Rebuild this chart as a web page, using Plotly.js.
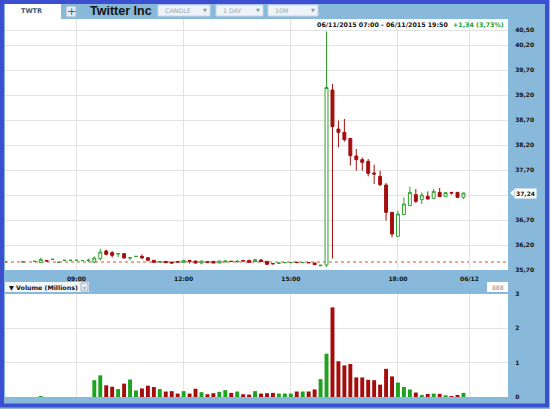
<!DOCTYPE html>
<html><head><meta charset="utf-8">
<script src="https://cdn.plot.ly/plotly-3.0.1.min.js"></script>
<style>html,body{margin:0;padding:0;background:#88b8da;overflow:hidden}#chart{width:550px;height:409px}</style>
</head><body><div id="chart"></div>
<script>
// ---- data ----
const times = ['07:00','07:30','07:50','08:00','08:10','08:20','08:30','08:40','08:50','09:00','09:10','09:20',
'09:30','09:40','09:50','10:00','10:10','10:20','10:30','10:40','10:50','11:00','11:10','11:20','11:30','11:40','11:50',
'12:00','12:10','12:20','12:30','12:40','12:50','13:00','13:10','13:20','13:30','13:40','13:50',
'14:00','14:10','14:20','14:30','14:40','14:50','15:00','15:10','15:20','15:30','15:40','15:50',
'16:00','16:10','16:20','16:30','16:40','16:50','17:00','17:10','17:20','17:30','17:40','17:50',
'18:00','18:10','18:20','18:30','18:40','18:50','19:00','19:10','19:20','19:30','19:40','19:50'];
const openP = [35.86,35.86,35.87,35.847,35.89,35.91,35.85,35.89,35.89,35.89,35.885,35.89,
35.86,35.927,36.08,36.047,36.02,36.027,35.94,35.97,35.973,35.947,35.893,35.853,35.873,35.86,35.865,
35.853,35.893,35.88,35.84,35.865,35.873,35.84,35.86,35.875,35.87,35.89,35.893,
35.867,35.90,35.873,35.83,35.835,35.845,35.845,35.855,35.845,35.85,35.84,35.785,
35.80,39.30,38.52,38.453,38.333,37.98,37.907,37.873,37.64,37.573,37.40,36.853,
36.373,36.807,36.987,37.207,37.107,37.173,37.133,37.253,37.167,37.253,37.253,37.153];
const highP = [35.87,35.88,35.875,35.947,35.895,35.92,35.86,35.90,35.90,35.90,35.895,35.927,
35.973,36.127,36.107,36.08,36.04,36.03,35.96,35.98,36.013,35.95,35.90,35.873,35.873,35.86,35.87,
35.897,35.895,35.883,35.883,35.87,35.875,35.885,35.885,35.88,35.893,35.893,35.895,
35.91,35.92,35.875,35.84,35.845,35.855,35.855,35.865,35.855,35.855,35.845,35.80,
40.47,39.42,38.687,38.72,38.34,38.12,37.95,37.92,37.807,37.687,37.44,36.853,
36.887,37.153,37.367,37.32,37.253,37.27,37.32,37.34,37.26,37.26,37.26,37.245];
const lowP = [35.86,35.86,35.865,35.847,35.875,35.91,35.85,35.89,35.89,35.89,35.885,35.853,
35.84,35.893,35.993,35.947,35.96,35.93,35.893,35.96,35.93,35.89,35.847,35.847,35.84,35.83,35.85,
35.85,35.827,35.827,35.813,35.85,35.835,35.835,35.855,35.865,35.84,35.875,35.85,
35.86,35.86,35.81,35.81,35.83,35.84,35.84,35.835,35.84,35.84,35.80,35.78,
35.76,35.93,38.153,38.267,37.787,37.687,37.687,37.573,37.42,37.38,36.687,36.353,
36.36,36.80,36.98,37.04,37.02,37.107,37.12,37.16,37.16,37.21,37.147,37.12];
const closeP = [35.865,35.865,35.875,35.913,35.88,35.915,35.855,35.895,35.895,35.895,35.89,35.895,
35.94,36.06,36.013,35.993,36.027,35.94,35.947,35.973,35.94,35.893,35.853,35.87,35.847,35.84,35.86,
35.893,35.873,35.84,35.88,35.855,35.84,35.88,35.88,35.87,35.875,35.88,35.853,
35.907,35.867,35.813,35.825,35.84,35.85,35.85,35.85,35.85,35.845,35.807,35.795,
39.35,38.567,38.453,38.307,37.987,37.907,37.853,37.633,37.62,37.407,36.853,36.42,
36.82,37.02,37.253,37.073,37.20,37.12,37.273,37.167,37.247,37.24,37.153,37.24];
const volumeM = [0,0,0,0.03,0,0,0,0,0,0,0,0,
0.49,0.63,0.34,0.30,0.23,0.39,0.51,0.19,0.25,0.33,0.29,0.23,0.16,0.17,0.10,
0.17,0.10,0.24,0.14,0.08,0.11,0.15,0.20,0.12,0.16,0.08,0.07,
0.17,0.10,0.11,0.12,0.10,0.10,0.10,0.16,0.16,0.16,0.22,0.52,
1.26,2.61,1.04,0.92,0.96,0.57,0.57,0.50,0.49,0.36,0.82,0.60,
0.42,0.29,0.22,0.13,0.06,0.09,0.10,0.09,0.05,0.03,0.06,0.12];
const xTickVals = [9,12,15,18,20];
const xTickText = ['09:00','12:00','15:00','18:00','06/12'];
const priceTicks = [35.70,36.20,36.70,37.20,37.70,38.20,38.70,39.20,39.70,40.20,40.50];
const priceTickText = ['35,70','36,20','36,70','','37,70','38,20','38,70','39,20','39,70','40,20','40,50'];
const volTicks = [0,1,2,3];
const volTickText = ['0','1','2','3'];
const prevClose = 35.86;
const lastPrice = 37.24;
const lastPriceText = '37,24';
const symbol = 'TWTR', company = 'Twitter Inc';
const dropdowns = ['CANDLE','1 DAY','10M'];
const rangeText = '06/11/2015 07:00 - 06/11/2015 19:50';
const changeText = '+1,34 (3,73%)';
const volumeTitle = '▼ Volume (Millions)';

// ---- helpers (layout only) ----
const hours = times.map(t => { const [h,m] = t.split(':'); return +h + (+m)/60; });
const PL=5, PR=508, PT=19, PB=397;
const fx = X => (X-PL)/(PR-PL);
const fy = Y => (PB-Y)/(PB-PT);
const F = 'DejaVu Sans';
const GREEN='#2ea12e', RED='#a30f0f', GRID='#e3e3e3';
const volColors = closeP.map((c,i)=> c>=openP[i] ? '#1fa21f' : '#a50d0d');

const traces = [
 {type:'candlestick', x:hours, open:openP, high:highP, low:lowP, close:closeP, xaxis:'x', yaxis:'y',
  whiskerwidth:0,
  increasing:{line:{color:GREEN,width:1}, fillcolor:'#ffffff'},
  decreasing:{line:{color:RED,width:1}, fillcolor:RED},
  hoverinfo:'skip', showlegend:false},
 {type:'bar', x:hours, y:volumeM, xaxis:'x2', yaxis:'y2', width:0.11,
  marker:{color:volColors, line:{width:0}}, hoverinfo:'skip', showlegend:false}
];

const rect = (x0,y0,x1,y1,fill,line,lw) => ({type:'rect', xref:'paper', yref:'paper',
  x0:fx(x0), x1:fx(x1), y0:fy(y0), y1:fy(y1), fillcolor:fill, line:{color:line||fill, width:lw===undefined?0:lw}, layer:'above'});
const ann = (X,Y,text,size,color,weight,anchor,family) => ({xref:'paper', yref:'paper', x:fx(X), y:fy(Y), text:text,
  showarrow:false, xanchor:anchor||'left', yanchor:'middle', font:{family:family||F, size:size, color:color, weight:weight||'normal'}});

const shapes = [
  {type:'line', xref:'paper', yref:'y', x0:0, x1:1, y0:prevClose, y1:prevClose, line:{color:'#e04848', width:1, dash:'dot'}, layer:'below'},
  rect(5,3,61,19,'#ffffff'),
  rect(66,6,76,17,'#e4edf6','#9fb4c8',1),
  rect(158,5,210,16,'#eef3f8','#c8d6e3',1),
  rect(216,5,263,16,'#eef3f8','#c8d6e3',1),
  rect(268,5,318,16,'#eef3f8','#c8d6e3',1),
  rect(5,282,89,292,'#f4f7fa'),
  rect(81,283,88,291,'#e8eef4','#9fb0c0',1),
  rect(487,282,508,292,'#ffffff'),
  {type:'path', xref:'paper', yref:'y', path:`M ${fx(510)} ${lastPrice} L ${fx(514)} ${lastPrice+0.07} L ${fx(514)} ${lastPrice-0.07} Z`,
   fillcolor:'#ffffff', line:{width:0}, layer:'above'},
  {type:'rect', xref:'paper', yref:'paper', x0:fx(2), x1:fx(547), y0:fy(2), y1:fy(405.5), fillcolor:'rgba(0,0,0,0)', line:{color:'#3c4fd0', width:4}, layer:'above'}
];

const annotations = [
  ann(31,11,symbol,6.5,'#3b5670','bold','center'),
  ann(71,11.5,'+',11,'#4a5f75','normal','center'),
  ann(88,11,company,12.5,'#151515','bold','left','Liberation Sans'),
  ann(163,10.5,dropdowns[0],6.3,'#9aa6b2','normal','left'),
  ann(221,10.5,dropdowns[1],6.3,'#9aa6b2','normal','left'),
  ann(273,10.5,dropdowns[2],6.3,'#9aa6b2','normal','left'),
  ann(205,10.5,'▼',5,'#8e9aa6','normal','center'),
  ann(258,10.5,'▼',5,'#8e9aa6','normal','center'),
  ann(313,10.5,'▼',5,'#8e9aa6','normal','center'),
  ann(315,24,rangeText,6.3,'#111111','bold','left'),
  ann(451,24,changeText,6.3,'#22a022','bold','left'),
  ann(7,287,volumeTitle,6.3,'#111111','bold','left'),
  ann(84.5,287,'×',6,'#7d8fa0','normal','center'),
  ann(506,287,'888',6,'#8a8a8a','normal','right'),
  {xref:'paper', yref:'y', x:fx(514), y:lastPrice, text:lastPriceText, showarrow:false, xanchor:'left', yanchor:'middle',
   bgcolor:'#ffffff', borderpad:1, font:{family:F, size:6, color:'#111', weight:'bold'}}
];

const layout = {
  width:550, height:409,
  margin:{l:PL, r:550-PR, t:PT, b:409-PB, pad:0},
  paper_bgcolor:'#88b8da', plot_bgcolor:'#ffffff',
  showlegend:false, hovermode:false,
  xaxis:{anchor:'y', range:[7,21.08], tickvals:xTickVals, ticktext:xTickText, showgrid:true, gridcolor:GRID, gridwidth:1,
    zeroline:false, showline:false, ticks:'outside', ticklen:3, tickcolor:'rgba(0,0,0,0)',
    tickfont:{family:F, size:6, color:'#111', weight:'bold'}, rangeslider:{visible:false}, fixedrange:true},
  xaxis2:{anchor:'y2', matches:'x', range:[7,21.08], tickvals:xTickVals, showticklabels:false, showgrid:true, gridcolor:GRID,
    zeroline:false, showline:false, ticks:'', fixedrange:true},
  yaxis:{domain:[fy(270),1], range:[35.70,40.72], side:'right', tickvals:priceTicks, ticktext:priceTickText,
    showgrid:true, gridcolor:GRID, zeroline:false, showline:false, ticks:'outside', ticklen:5, tickcolor:'rgba(0,0,0,0)',
    tickfont:{family:F, size:6, color:'#111', weight:'bold'}, fixedrange:true},
  yaxis2:{domain:[0,fy(294)], range:[0,3], side:'right', tickvals:volTicks, ticktext:volTickText,
    showgrid:true, gridcolor:GRID, zeroline:false, showline:false, ticks:'outside', ticklen:5, tickcolor:'rgba(0,0,0,0)',
    tickfont:{family:F, size:6, color:'#111', weight:'bold'}, fixedrange:true},
  shapes:shapes, annotations:annotations, bargap:0.3
};

Plotly.newPlot('chart', traces, layout, {staticPlot:true, displayModeBar:false});
</script></body></html>
